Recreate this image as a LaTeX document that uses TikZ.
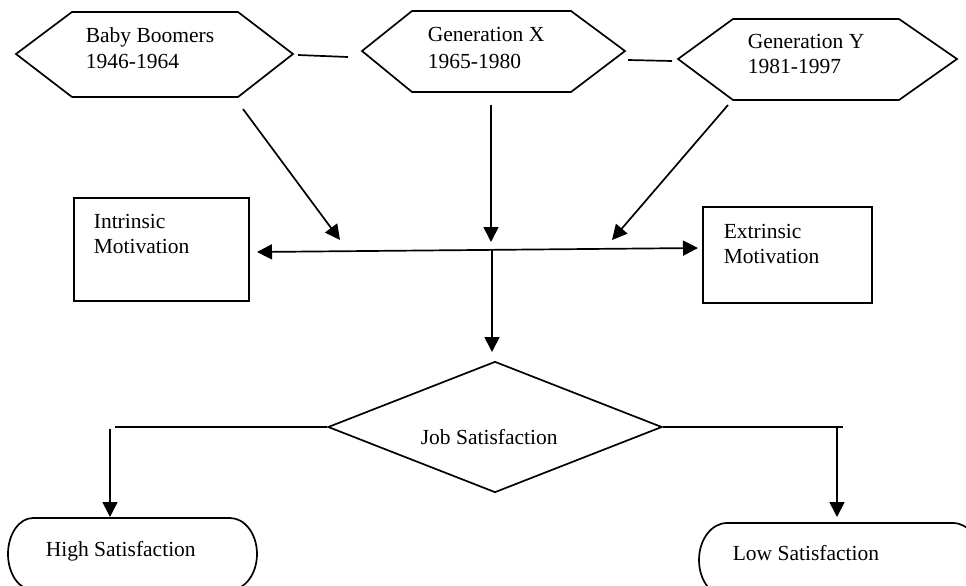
\documentclass[tikz,border=0pt]{standalone}
\usepackage{fontspec}
\setmainfont{Liberation Serif}
\usetikzlibrary{arrows.meta,shapes.geometric}
\begin{document}
\begin{tikzpicture}[x=1pt,y=-1pt,
  line width=1.7pt,
  lbl/.style={anchor=base west, align=left, inner sep=0pt, font=\fontsize{21.5}{25}\selectfont},
  arr/.style={-{Triangle[length=15pt,width=15pt]}},
  dbl/.style={{Triangle[length=15pt,width=15pt]}-{Triangle[length=15pt,width=15pt]}},
  box/.style={draw, rectangle, inner sep=0pt},
  dia/.style={draw, diamond, inner sep=0pt}]
\clip (0,0) rectangle (966,586);
\fill[white] (0,0) rectangle (966,586);

% hexagons
\draw (16,54) -- (72,12) -- (238,12) -- (293,54) -- (238,97) -- (72,97) -- cycle;
\draw (362,51) -- (412,11) -- (571,11) -- (625,51) -- (571,92) -- (412,92) -- cycle;
\draw (678,59) -- (733,19) -- (899,19) -- (957,59) -- (899,100) -- (733,100) -- cycle;
\node[lbl] (bbt) at (85,68) {Baby Boomers\\1946-1964};
\node[lbl, font=\fontsize{21.5}{27}\selectfont] (gxt) at (427,68) {Generation X\\1965-1980};
\node[lbl] (gyt) at (747,74) {Generation Y\\1981-1997};

% connector coordinates
\coordinate (bbR) at (298,55);
\coordinate (gxL) at (348,57);
\coordinate (gxR) at (628,60);
\coordinate (gyL) at (672,61);
\coordinate (bbA) at (243,109);
\coordinate (bbT) at (340,240);
\coordinate (gxA) at (491,105);
\coordinate (gxT) at (491,242);
\coordinate (gyA) at (728,105);
\coordinate (gyT) at (612,240);
\coordinate (hL) at (257,252);
\coordinate (hR) at (698,248);
\coordinate (dS) at (492,250);
\coordinate (dT) at (492,352);

% rectangles
\node[box, minimum width=175pt, minimum height=103pt] (intr) at (161.5,249.5) {};
\node[box, minimum width=169pt, minimum height=96pt] (extr) at (787.5,255) {};
\node[lbl] (intrt) at (93,253) {Intrinsic\\Motivation};
\node[lbl] (extrt) at (723,263) {Extrinsic\\Motivation};

% diamond
\node[dia, minimum width=334pt, minimum height=131pt] (js) at (495,427) {};
\node[lbl] (jst) at (420,444) {Job Satisfaction};

% ovals
\draw (33,518) -- (230,518) arc[start angle=-90, end angle=90, x radius=27, y radius=36]
  -- (33,590) arc[start angle=90, end angle=270, x radius=25, y radius=36] -- cycle;
\draw (727,523) -- (953,523) arc[start angle=-90, end angle=90, x radius=28, y radius=37]
  -- (727,597) arc[start angle=90, end angle=270, x radius=28, y radius=37] -- cycle;
\node[lbl] (hst) at (45,556) {High Satisfaction};
\node[lbl] (lst) at (732,560) {Low Satisfaction};
\coordinate (hsT) at (110,517);
\coordinate (lsT) at (837,517);
\coordinate (lE) at (115,427);
\coordinate (lV) at (110,429);
\coordinate (rE) at (843,427);
\coordinate (rV) at (837,427);

% connectors
\draw (bbR) -- (gxL);
\draw (gxR) -- (gyL);
\draw[arr] (bbA) -- (bbT);
\draw[arr] (gxA) -- (gxT);
\draw[arr] (gyA) -- (gyT);
\draw[dbl] (hL) -- (hR);
\draw[arr] (dS) -- (dT);
\draw (js.west) -- (lE);
\draw[arr] (lV) -- (hsT);
\draw (js.east) -- (rE);
\draw[arr] (rV) -- (lsT);
\end{tikzpicture}
\end{document}
